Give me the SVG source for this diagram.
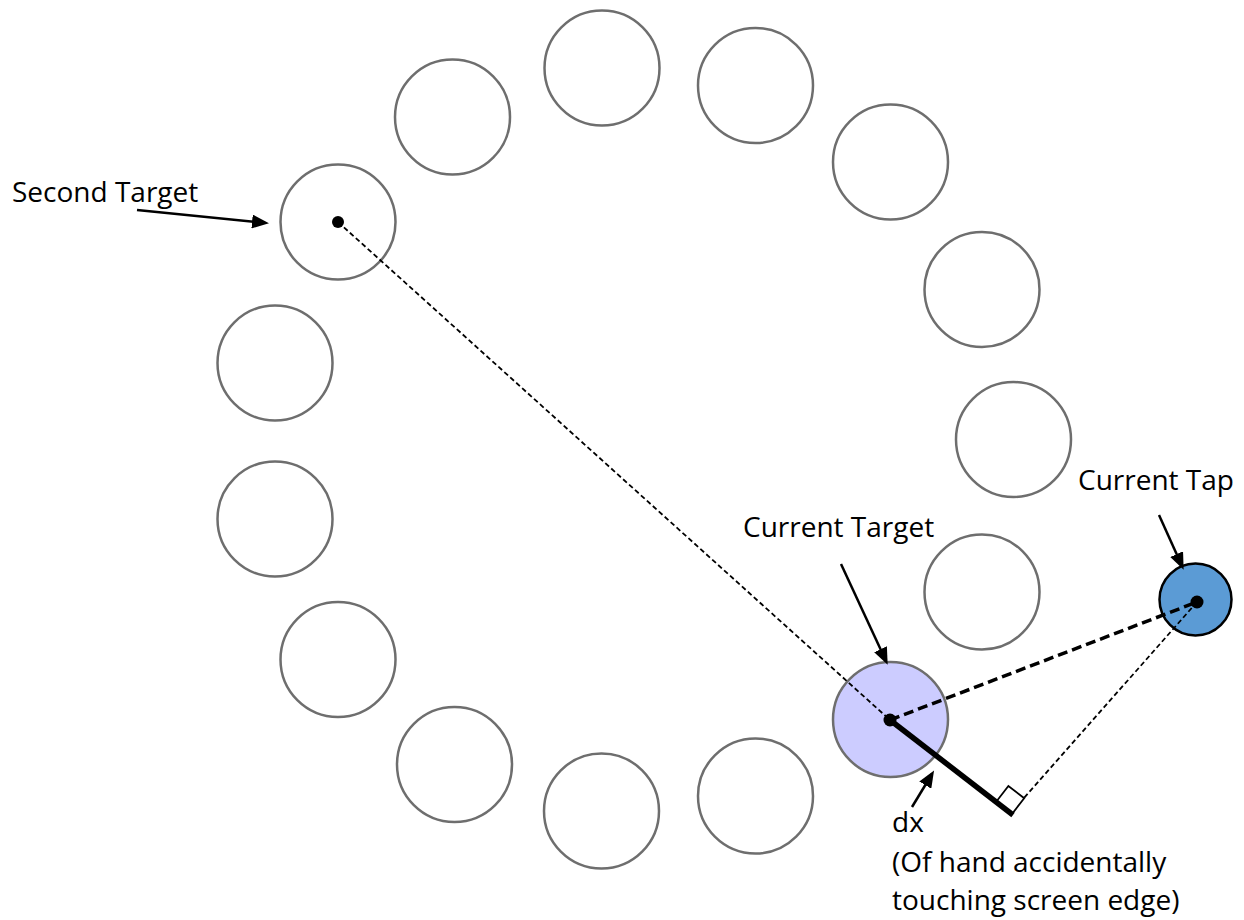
<svg xmlns="http://www.w3.org/2000/svg" width="1244" height="920" viewBox="0 0 1244 920">
<style>
.t{fill:none;stroke:#6e6e6e;stroke-width:2.5}
.lbl{font-family:"Open Sans","Liberation Sans",sans-serif;font-size:28px;fill:#000}
.arr{stroke:#000;stroke-width:2.5;fill:none;marker-end:url(#ah)}
.dot{fill:#000}
</style>
<defs>
<marker id="ah" markerUnits="userSpaceOnUse" markerWidth="18" markerHeight="14" refX="13" refY="7" orient="auto">
<path d="M0,0 L17,7 L0,14 z" fill="#000"/>
</marker>
</defs>
<rect width="1244" height="920" fill="#fff"/>
<g id="targets">
<circle id="t1" class="t" cx="602" cy="68" r="57.5"/>
<circle id="t2" class="t" cx="755.5" cy="85.5" r="57.5"/>
<circle id="t3" class="t" cx="890.5" cy="162" r="57.5"/>
<circle id="t4" class="t" cx="982" cy="289.5" r="57.5"/>
<circle id="t5" class="t" cx="1013.5" cy="439.5" r="57.5"/>
<circle id="t6" class="t" cx="982" cy="592" r="57.5"/>
<circle id="t8" class="t" cx="755.5" cy="796" r="57.5"/>
<circle id="t9" class="t" cx="601.5" cy="811" r="57.5"/>
<circle id="t10" class="t" cx="454.5" cy="764.5" r="57.5"/>
<circle id="t11" class="t" cx="338" cy="659.5" r="57.5"/>
<circle id="t12" class="t" cx="275" cy="519" r="57.5"/>
<circle id="t13" class="t" cx="275" cy="363" r="57.5"/>
<circle id="t15" class="t" cx="452.5" cy="117" r="57.5"/>
</g>
<g id="second-target">
<circle class="t" cx="338" cy="222" r="57.5"/>
</g>
<g id="current-target">
<circle cx="890.5" cy="719.5" r="57.5" fill="#ccccff" stroke="#6e6e6e" stroke-width="2.5"/>
</g>
<g id="current-tap">
<circle cx="1195.5" cy="599.5" r="36" fill="#5b9bd5" stroke="#000" stroke-width="2.5"/>
</g>
<g id="connectors">
<line x1="338" y1="222" x2="890" y2="720" stroke="#000" stroke-width="1.8" stroke-dasharray="5 3"/>
<line x1="890" y1="720" x2="1197" y2="602" stroke="#000" stroke-width="3.5" stroke-dasharray="10 5"/>
<line x1="1197" y1="602" x2="1024" y2="798" stroke="#000" stroke-width="1.8" stroke-dasharray="5 3"/>
<polygon points="1012,814 996.2,801.8 1008.4,786 1024.2,798.2" fill="#fff" stroke="#000" stroke-width="1.8"/>
<line x1="890" y1="720" x2="1013" y2="815" stroke="#000" stroke-width="5.5"/>
<line class="arr" x1="137" y1="210" x2="265" y2="222.8"/>
<line class="arr" x1="841" y1="564" x2="886" y2="661"/>
<line class="arr" x1="1159" y1="515" x2="1182" y2="566"/>
<line class="arr" x1="912" y1="807" x2="932" y2="774"/>
</g>
<g id="dots">
<circle class="dot" cx="338" cy="222" r="6"/>
<circle class="dot" cx="890" cy="720" r="6.5"/>
<circle class="dot" cx="1197" cy="602" r="6.5"/>
</g>
<g id="labels">
<text class="lbl" x="12" y="202">Second Target</text>
<text class="lbl" x="743" y="537">Current Target</text>
<text class="lbl" x="1078" y="490">Current Tap</text>
<text class="lbl" x="892" y="832">dx</text>
<text class="lbl" x="892" y="872">(Of hand accidentally</text>
<text class="lbl" x="892" y="910">touching screen edge)</text>
</g>
</svg>
